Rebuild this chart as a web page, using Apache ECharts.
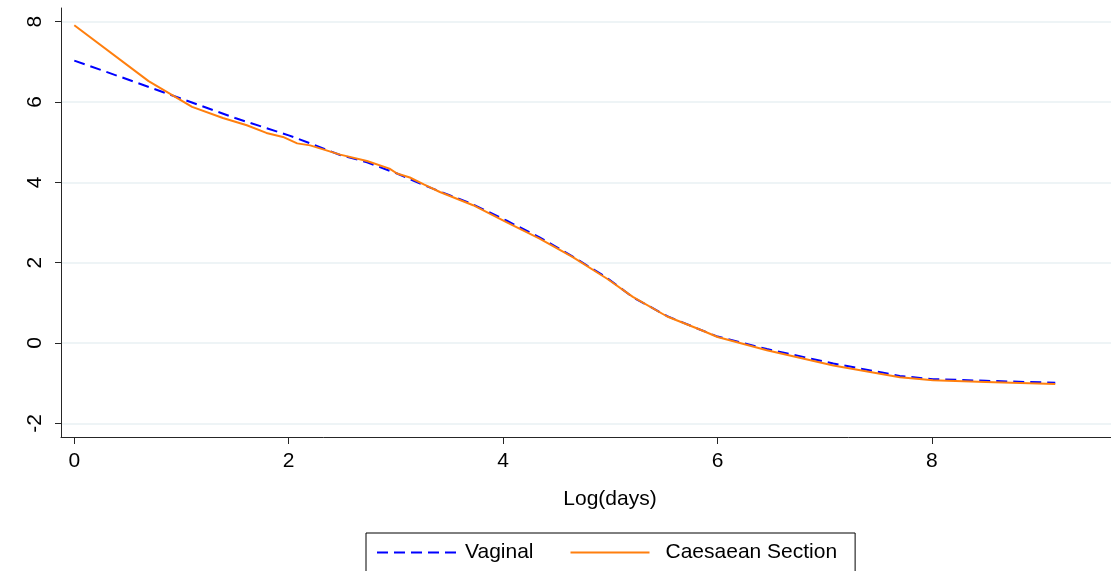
<!DOCTYPE html>
<html>
<head>
<meta charset="utf-8">
<title>Log(days)</title>
<script src="https://cdn.jsdelivr.net/npm/echarts@6/dist/echarts.min.js"></script>
<style>
    html, body {margin: 0; padding: 0; background: #fff;}
    #chart {width: 1111px; height: 571px;}
</style>
</head>
<body>
<div id="chart"></div>
<script>
// x = log(days)
var logDaysVaginal = [0, 0.5, 1.0, 1.5, 2.0, 2.2, 2.48, 2.73, 2.85, 3.01, 3.26, 3.5, 3.72, 4.03, 4.34, 4.65, 4.97, 5.21, 5.53, 5.84, 6.0, 6.46, 7.08, 7.7, 8.01, 8.5, 9.15];
var vaginal = [7.03, 6.56, 6.08, 5.6, 5.17, 4.97, 4.68, 4.5, 4.38, 4.22, 3.93, 3.68, 3.45, 3.05, 2.63, 2.15, 1.62, 1.14, 0.67, 0.33, 0.16, -0.15, -0.51, -0.82, -0.9, -0.94, -0.99];

var logDaysCaesarean = [0, 0.693, 1.099, 1.386, 1.609, 1.792, 1.946, 2.079, 2.2, 2.48, 2.73, 2.94, 3.01, 3.13, 3.26, 3.41, 3.72, 4.03, 4.34, 4.65, 4.97, 5.21, 5.53, 5.84, 6.0, 6.46, 7.08, 7.7, 8.01, 8.5, 9.15];
var caesarean = [7.91, 6.52, 5.88, 5.6, 5.42, 5.23, 5.13, 4.97, 4.92, 4.69, 4.53, 4.34, 4.22, 4.12, 3.95, 3.76, 3.43, 3.01, 2.6, 2.14, 1.6, 1.15, 0.66, 0.33, 0.15, -0.18, -0.56, -0.85, -0.93, -0.97, -1.02];

var xTicks = [0, 2, 4, 6, 8];
var yTicks = [-2, 0, 2, 4, 6, 8];

var seriesNames = ['Vaginal', 'Caesaean Section'];

function zip(xs, ys) {
    var res = [];
    for (var i = 0; i < xs.length; i++) {
        res.push([xs[i], ys[i]]);
    }
    return res;
}

var font = '"Liberation Sans", Arial, sans-serif';
var axisColor = '#262626';
var clear = 'rgba(0,0,0,0)';

var myChart = echarts.init(document.getElementById('chart'));

var option = {
    backgroundColor: '#fff',
    animation: false,
    textStyle: {fontFamily: font},
    grid: {left: 61, right: 0, top: 8, bottom: 134},
    xAxis: {
        type: 'value',
        min: -0.124,
        max: 9.67,
        name: 'Log(days)',
        nameLocation: 'middle',
        nameGap: 52,
        // the original plot is wider than the crop, so the title sits right of centre
        nameTextStyle: {fontSize: 21, color: '#000', fontFamily: font, padding: [0, 0, 0, 48]},
        axisLine: {show: true, onZero: false, lineStyle: {color: axisColor, width: 1}},
        axisTick: {show: true, length: 7, customValues: xTicks, lineStyle: {color: axisColor}},
        axisLabel: {customValues: xTicks, fontSize: 21, color: '#000', margin: 14, fontFamily: font},
        splitLine: {show: false}
    },
    yAxis: {
        type: 'value',
        min: -2.34,
        max: 8.34,
        axisLine: {show: true, onZero: false, lineStyle: {color: axisColor, width: 1}},
        axisTick: {show: true, length: 6, customValues: yTicks, lineStyle: {color: axisColor}},
        axisLabel: {customValues: yTicks, fontSize: 21, color: '#000', margin: 15, rotate: 90, fontFamily: font},
        splitLine: {show: true, lineStyle: {color: '#e9f0f3', width: 1.5}}
    },
    legend: {
        data: [
            {name: seriesNames[0]},
            {name: seriesNames[1], textStyle: {padding: [0, 0, 0, 11]}}
        ],
        left: 366,
        top: 533,
        orient: 'horizontal',
        padding: [9, 18, 9, 10],
        borderColor: '#000',
        borderWidth: 1,
        itemWidth: 79,
        itemHeight: 14,
        itemGap: 36,
        itemStyle: {color: clear, borderWidth: 0},
        textStyle: {fontSize: 21, color: '#000', fontFamily: font, padding: [0, 0, 0, 4]}
    },
    series: [
        {
            name: seriesNames[0],
            type: 'line',
            data: zip(logDaysVaginal, vaginal),
            symbol: 'none',
            lineStyle: {color: '#0000ff', width: 2, type: [11, 6]},
            itemStyle: {color: clear},
            z: 2
        },
        {
            name: seriesNames[1],
            type: 'line',
            data: zip(logDaysCaesarean, caesarean),
            symbol: 'none',
            lineStyle: {color: '#ff7f0e', width: 2},
            itemStyle: {color: clear},
            z: 3
        }
    ]
};

myChart.setOption(option);
</script>
</body>
</html>
